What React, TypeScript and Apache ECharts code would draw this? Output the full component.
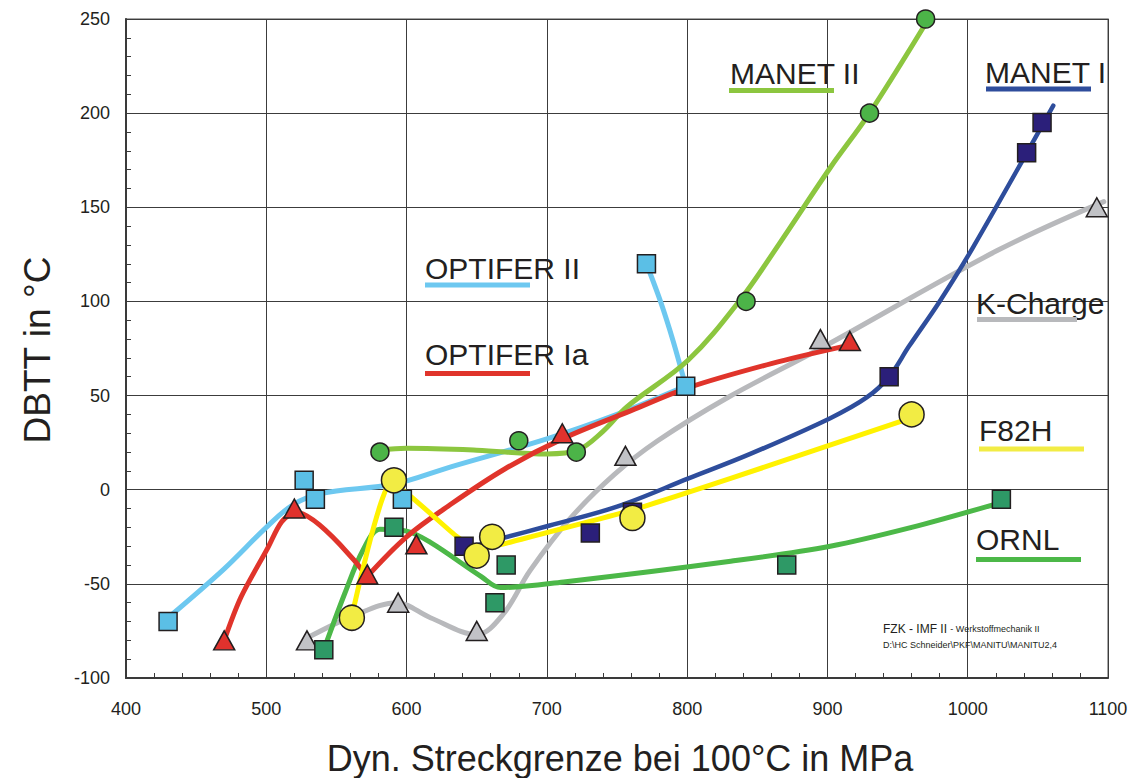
import React, { useEffect, useRef } from 'react';
import * as echarts from 'echarts';

type Pt = [number, number];

// Axis ranges (Dyn. Streckgrenze in MPa / DBTT in °C)
const xRange = { min: 400, max: 1100, step: 100 };
const yRange = { min: -100, max: 250, step: 50 };

// ---- OPTIFER II ----
const optiferIIPoints: Pt[] = [[430, -70], [527, 5], [535, -5], [597, -5], [771, 120], [799, 55]];
const optiferIICurve: Pt[] = [[430, -68], [470, -42], [500, -20], [519, -8], [539, -2], [591, 3], [631, 12], [700, 27], [750, 40], [799, 55]];
const optiferIIBranch: Pt[] = [[799, 55], [790, 79], [781, 100], [771, 120]];

// ---- OPTIFER Ia ----
const optiferIaPoints: Pt[] = [[470, -80], [520, -10], [572, -45], [607, -29], [711, 30], [916, 79]];
const optiferIaRise: Pt[] = [[470, -80], [482, -57], [501, -31], [511, -17], [521, -12], [572, -46]];
const optiferIaTail: Pt[] = [[572, -46], [600, -25], [631, -8], [670, 11], [711, 27], [760, 42], [800, 54], [860, 67], [911, 76]];

// ---- K-Charge ----
const kChargePoints: Pt[] = [[529, -80], [594, -60], [650, -75], [756, 18], [895, 80], [1092, 150]];
const kChargeCurve: Pt[] = [[531, -78], [562, -67], [593, -60], [617, -68], [650, -77], [669, -66], [688, -43], [717, -15], [748, 8], [779, 26], [829, 49], [895, 75], [1021, 127], [1097, 153]];

// ---- ORNL ----
const ornlPoints: Pt[] = [[541, -85], [591, -20], [671, -40], [663, -60], [871, -40], [1024, -5]];
const ornlCurve: Pt[] = [[541, -85], [556, -55], [569, -32], [581, -21], [600, -22], [617, -28], [653, -46], [667, -52], [712, -49], [831, -38], [902, -30], [960, -20], [1018, -8]];

// ---- F82H ----
const f82hPoints: Pt[] = [[561, -68], [591, 5], [650, -35], [661, -25], [761, -15], [960, 40]];
const f82hCurve: Pt[] = [[561, -67], [589, 4], [636, -25], [652, -32], [668, -29], [760, -11], [831, 6], [955, 37]];

// ---- MANET I ----
const manetIPoints: Pt[] = [[641, -30], [731, -23], [761, -12], [944, 60], [1042, 179], [1053, 195]];
const manetICurve: Pt[] = [[648, -30], [667, -26], [702, -19], [750, -9], [801, 6], [845, 19], [902, 38], [928, 49], [944, 60], [958, 76], [980, 100], [1004, 129], [1061, 204]];

// ---- MANET II ----
const manetIIPoints: Pt[] = [[581, 20], [680, 26], [721, 20], [842, 100], [930, 200], [970, 250]];
const manetIICurve: Pt[] = [[581, 21], [600, 22], [650, 21], [700, 19], [722, 21], [740, 31], [757, 44], [801, 69], [838, 101], [866, 131], [902, 171], [930, 200], [972, 250]];

const FONT = '"Liberation Sans", Arial, Helvetica, sans-serif';
const INK = '#231f20';

function curve(data: Pt[], color: string, width: number, smooth: number | boolean, z = 2) {
  return {
    type: 'line',
    data,
    smooth,
    symbol: 'none',
    showSymbol: false,
    silent: true,
    z,
    lineStyle: { color, width, cap: 'round', join: 'round' },
    itemStyle: { color },
  };
}

function marks(data: Pt[], symbol: string, size: number | number[], fill: string, z = 5) {
  return {
    type: 'scatter',
    data,
    symbol,
    symbolSize: size,
    silent: true,
    z,
    itemStyle: { color: fill, borderColor: INK, borderWidth: 1.5, opacity: 1 },
  };
}

function legendLabel(text: string, x: number, y: number, color: string, ux0: number, ux1: number, uy: number) {
  return [
    {
      type: 'text',
      x,
      y,
      style: {
        text,
        font: `30px ${FONT}`,
        fill: INK,
        textAlign: 'left',
        textVerticalAlign: 'middle',
        align: 'left',
        verticalAlign: 'middle',
      },
      z: 10,
    },
    {
      type: 'rect',
      shape: { x: ux0, y: uy - 2.5, width: ux1 - ux0, height: 5 },
      style: { fill: color },
      z: 10,
    },
  ];
}

export default function App() {
  const ref = useRef<HTMLDivElement>(null);

  useEffect(() => {
    if (!ref.current) return;
    const chart = echarts.init(ref.current, undefined, { renderer: 'svg' });

    const axisCommon = {
      axisLine: { show: true, onZero: false, lineStyle: { color: '#3a3a3a', width: 2 } },
      axisTick: { show: true, inside: true, length: 5, lineStyle: { color: '#3a3a3a', width: 1 } },
      minorTick: { show: true, splitNumber: 5, length: 5, lineStyle: { color: '#3a3a3a', width: 1 } },
      splitLine: { show: true, lineStyle: { color: '#3c3c3c', width: 1 } },
      axisLabel: {
        color: INK,
        fontSize: 18,
        fontFamily: FONT,
        formatter: (v: number) => String(v),
      },
    };

    chart.setOption({
      animation: false,
      backgroundColor: '#ffffff',
      grid: {
        left: 126,
        right: 27,
        top: 19,
        bottom: 100,
        show: true,
        borderColor: '#8a8a8a',
        borderWidth: 1.5,
        backgroundColor: 'transparent',
      },
      xAxis: {
        type: 'value',
        min: xRange.min,
        max: xRange.max,
        interval: xRange.step,
        ...axisCommon,
        axisLabel: { ...axisCommon.axisLabel, margin: 22 },
      },
      yAxis: {
        type: 'value',
        min: yRange.min,
        max: yRange.max,
        interval: yRange.step,
        ...axisCommon,
        axisLabel: { ...axisCommon.axisLabel, margin: 16 },
      },
      series: [
        curve(kChargeCurve, '#b8b9bc', 5, 0.35),
        curve(ornlCurve, '#4cb848', 5, 0.35),
        curve(optiferIICurve, '#6dc8f0', 5, 0.35),
        curve(optiferIIBranch, '#6dc8f0', 5, 0.3),
        curve(manetIICurve, '#8cc63f', 5, 0.35),
        curve(optiferIaRise, '#e0342b', 5, 0.3),
        curve(optiferIaTail, '#e0342b', 5, 0.35),
        curve(f82hCurve, '#fff200', 5, 0.15),
        curve(manetICurve, '#2e4d9c', 4.5, 0.35),

        marks(kChargePoints, 'triangle', [21, 19], '#c1c2c6', 5),
        marks(ornlPoints, 'rect', 18, '#2e9966', 5),
        marks(optiferIIPoints, 'rect', 18, '#5bbfe6', 5),
        marks(optiferIaPoints, 'triangle', [21, 19], '#e0322d', 6),
        marks(manetIIPoints, 'circle', 18, '#4cb448', 6),
        marks(manetIPoints, 'rect', 18, '#2b1f7a', 6),
        marks(f82hPoints, 'circle', 25, '#f2ec44', 7),
      ],
      graphic: [
        ...legendLabel('MANET II', 730, 73, '#8cc63f', 729, 834, 90.5),
        ...legendLabel('MANET I', 985, 72, '#2e4d9c', 986, 1091, 89),
        ...legendLabel('OPTIFER II', 425, 268, '#6dc8f0', 425, 530, 285),
        ...legendLabel('OPTIFER Ia', 425, 354, '#e0342b', 425, 530, 373.5),
        ...legendLabel('K-Charge', 976, 303, '#b8b9bc', 977, 1077, 319.5),
        ...legendLabel('F82H', 979, 430, '#f2ec44', 979, 1084, 449),
        ...legendLabel('ORNL', 976, 539, '#4cb848', 976, 1081, 559.5),
        {
          type: 'text',
          x: 883,
          y: 629,
          style: {
            text: '{a|FZK - IMF II} {b|- Werkstoffmechanik II}',
            rich: {
              a: { fontSize: 12, fontFamily: FONT, fill: INK, color: INK },
              b: { fontSize: 9, fontFamily: FONT, fill: INK, color: INK },
            },
            font: `12px ${FONT}`,
            fill: INK,
            textVerticalAlign: 'middle',
            verticalAlign: 'middle',
          },
          z: 10,
        },
        {
          type: 'text',
          x: 883,
          y: 645,
          style: {
            text: 'D:\\HC Schneider\\PKF\\MANITU\\MANITU2,4',
            font: `9px ${FONT}`,
            fill: INK,
            textVerticalAlign: 'middle',
            verticalAlign: 'middle',
          },
          z: 10,
        },
        {
          type: 'text',
          x: 37,
          y: 350,
          rotation: Math.PI / 2,
          style: {
            text: 'DBTT in °C',
            font: `37px ${FONT}`,
            fill: INK,
            textAlign: 'center',
            textVerticalAlign: 'middle',
            align: 'center',
            verticalAlign: 'middle',
          },
          z: 10,
        },
        {
          type: 'text',
          x: 620,
          y: 758,
          style: {
            text: 'Dyn. Streckgrenze bei 100°C in MPa',
            font: `36px ${FONT}`,
            fill: INK,
            textAlign: 'center',
            textVerticalAlign: 'middle',
            align: 'center',
            verticalAlign: 'middle',
          },
          z: 10,
        },
      ],
    });

    return () => chart.dispose();
  }, []);

  return (
    <div
      ref={ref}
      style={{ position: 'absolute', left: 0, top: 0, width: 1135, height: 778, background: '#fff' }}
    />
  );
}
